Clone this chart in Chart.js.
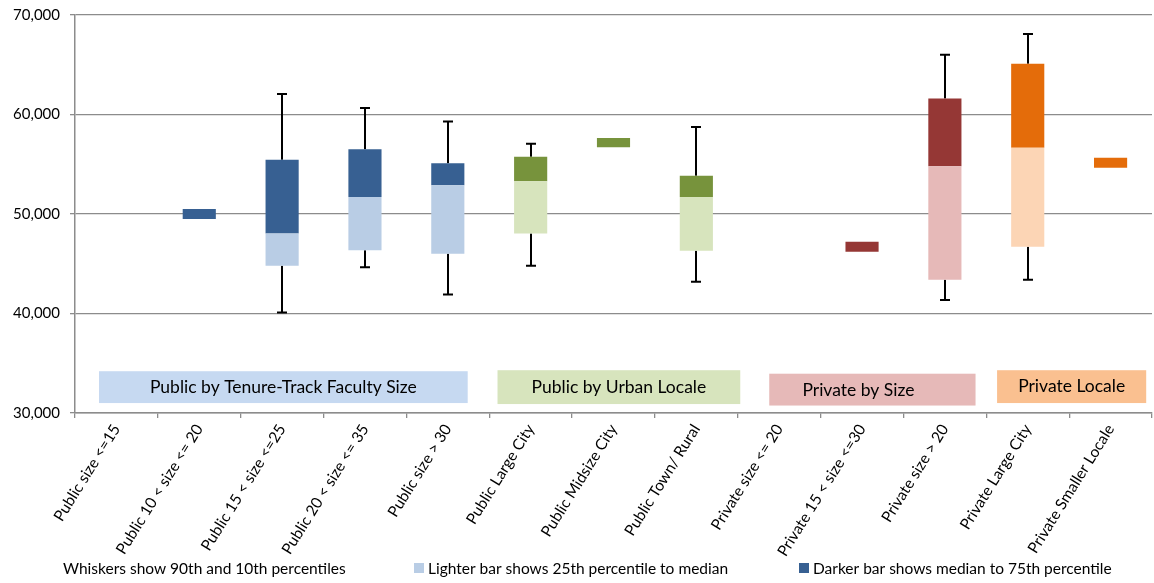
<!DOCTYPE html>
<html lang="en">
<head>
    <meta charset="UTF-8">
    <title>Faculty salary percentiles</title>
    <style>
        body{
            margin: 0;
            background: #ffffff;
        }
        #wrap{
            width: 1154px;
            height: 583px;
        }
    </style>
</head>
<body>
    <div id="wrap">
        <canvas id="grafik-gaji" width="1154" height="583"></canvas>
    </div>

    <script src="https://cdn.jsdelivr.net/npm/chart.js"></script>
    <script>
        // categories and percentile values
        const categories = [
            "Public size <=15", "Public 10 < size <= 20", "Public 15 < size <=25",
            "Public 20 < size <= 35", "Public size > 30", "Public Large City",
            "Public Midsize City", "Public Town/ Rural", "Private size <= 20",
            "Private 15 < size <=30", "Private size > 20", "Private Large City",
            "Private Smaller Locale"
        ]
        const p10    = [null, null, 40100, 44650, 41900, 44800, null, 43200, null, null, 41350, 43400, null]
        const p25    = [null, null, 44800, 46350, 46000, 48050, null, 46300, null, null, 43400, 46700, null]
        const median = [null, 49500, 48050, 51700, 52900, 53300, 56700, 51700, null, 46200, 54800, 56650, 54650]
        const p75    = [null, 50500, 55450, 56500, 55100, 55750, 57650, 53850, null, 47200, 61600, 65100, 55650]
        const p90    = [null, null, 62050, 60650, 59300, 57050, null, 58750, null, null, 66000, 68100, null]

        const groupOf    = [0, 0, 0, 0, 0, 1, 1, 1, 2, 2, 2, 3, 3]
        const groupNames = ["Public by Tenure-Track Faculty Size", "Public by Urban Locale", "Private by Size", "Private Locale"]

        const yTicks = [30000, 40000, 50000, 60000, 70000]

        const legendTexts = [
            "Whiskers show 90th and 10th percentiles",
            "Lighter bar shows 25th percentile to median",
            "Darker bar shows median to 75th percentile"
        ]

        // styles
        const darkCol  = ["#376092", "#77933c", "#953735", "#e46c0a"]
        const lightCol = ["#b9cde5", "#d7e4bd", "#e6b9b8", "#fcd5b5"]
        const boxCol   = ["#c6d9f1", "#d7e4bd", "#e6b9b8", "#fac090"]
        const boxPos = [
            {from: -0.21, to: 4.24, top: 34200, bottom: 31000},
            {from: 4.60, to: 7.53, top: 34300, bottom: 30900},
            {from: 7.88, to: 10.37, top: 33950, bottom: 30750},
            {from: 10.63, to: 12.43, top: 34300, bottom: 31000}
        ]
        const FONT = "Lato, 'Open Sans', sans-serif"
        const gridGray = "#8c8c8c"

        var lightData = []
        var darkData = []
        categories.forEach((c, i) => {
            lightData.push(p25[i] != null ? [p25[i], median[i]] : null)
            darkData.push(median[i] != null ? [median[i], p75[i]] : null)
        })

        const extras = {
            id: 'extras',
            beforeDatasetsDraw(chart){
                const ctx = chart.ctx
                const x = chart.scales.x
                const y = chart.scales.y
                const step = x.getPixelForValue(1) - x.getPixelForValue(0)
                // group label boxes
                ctx.save()
                groupNames.forEach((name, g) => {
                    const b = boxPos[g]
                    const x0 = x.getPixelForValue(0) + b.from * step
                    const x1 = x.getPixelForValue(0) + b.to * step
                    const y0 = y.getPixelForValue(b.top)
                    const y1 = y.getPixelForValue(b.bottom)
                    ctx.fillStyle = boxCol[g]
                    ctx.fillRect(x0, y0, x1 - x0, y1 - y0)
                    ctx.fillStyle = "#000"
                    ctx.font = "17.5px " + FONT
                    ctx.textAlign = "center"
                    ctx.textBaseline = "middle"
                    ctx.fillText(name, (x0 + x1) / 2 - (g == 2 ? 14 : 0), (y0 + y1) / 2 + (g == 2 ? 1 : 0))
                })
                // whiskers: 75th -> 90th and 25th -> 10th
                ctx.strokeStyle = "#000"
                ctx.lineWidth = 2
                categories.forEach((c, i) => {
                    if (p10[i] == null) return
                    const cx = Math.round(x.getPixelForValue(i))
                    const top = y.getPixelForValue(p90[i])
                    const bot = y.getPixelForValue(p10[i])
                    ctx.beginPath()
                    ctx.moveTo(cx, top)
                    ctx.lineTo(cx, y.getPixelForValue(p75[i]))
                    ctx.moveTo(cx, y.getPixelForValue(p25[i]))
                    ctx.lineTo(cx, bot)
                    ctx.moveTo(cx - 5, top)
                    ctx.lineTo(cx + 5, top)
                    ctx.moveTo(cx - 5, bot)
                    ctx.lineTo(cx + 5, bot)
                    ctx.stroke()
                })
                ctx.restore()
            },
            afterDraw(chart){
                const ctx = chart.ctx
                ctx.save()
                ctx.font = "15.5px " + FONT
                ctx.fillStyle = "#000"
                ctx.textBaseline = "middle"
                ctx.textAlign = "left"
                const ly = 569
                ctx.fillText(legendTexts[0], 63, ly)
                ctx.fillStyle = lightCol[0]
                ctx.fillRect(414, ly - 6, 10, 10)
                ctx.fillStyle = "#000"
                ctx.fillText(legendTexts[1], 428, ly)
                ctx.fillStyle = darkCol[0]
                ctx.fillRect(799, ly - 6, 10, 10)
                ctx.fillStyle = "#000"
                ctx.fillText(legendTexts[2], 813, ly)
                ctx.restore()
            }
        }

        new Chart(document.getElementById('grafik-gaji'), {
            type: 'bar',
            data: {
                labels: categories,
                datasets: [{
                    label: 'lighter',
                    data: lightData,
                    backgroundColor: groupOf.map(g => lightCol[g]),
                    borderWidth: 0
                }, {
                    label: 'darker',
                    data: darkData,
                    backgroundColor: groupOf.map(g => darkCol[g]),
                    borderWidth: 0
                }]
            },
            options: {
                responsive: false,
                animation: false,
                layout: {
                    padding: {top: 15, right: 2, left: 0, bottom: 0}
                },
                plugins: {
                    legend: {display: false},
                    tooltip: {enabled: false}
                },
                datasets: {
                    bar: {
                        grouped: false,
                        barPercentage: 0.4,
                        categoryPercentage: 1.0
                    }
                },
                scales: {
                    x: {
                        afterFit(scale){ scale.height = 170 },
                        grid: {
                            offset: true,
                            drawOnChartArea: false,
                            drawTicks: true,
                            tickLength: 5,
                            color: gridGray,
                            lineWidth: 1.3
                        },
                        border: {color: gridGray, width: 1.5},
                        ticks: {
                            autoSkip: false,
                            minRotation: 58,
                            maxRotation: 58,
                            padding: 3,
                            color: "#000",
                            font: {family: FONT, size: 15.5}
                        }
                    },
                    y: {
                        min: 30000,
                        max: 70000,
                        afterFit(scale){
                            scale.width = 75
                            scale.paddingTop = 0
                            scale.paddingBottom = 0
                        },
                        afterBuildTicks(scale){
                            scale.ticks = yTicks.map(v => ({value: v}))
                        },
                        grid: {
                            color: gridGray,
                            lineWidth: 1.3,
                            tickLength: 5
                        },
                        border: {color: gridGray, width: 1.5},
                        ticks: {
                            padding: 10,
                            color: "#000",
                            font: {family: FONT, size: 15},
                            callback: v => v.toLocaleString('en-US')
                        }
                    }
                }
            },
            plugins: [extras]
        })
    </script>
</body>
</html>
